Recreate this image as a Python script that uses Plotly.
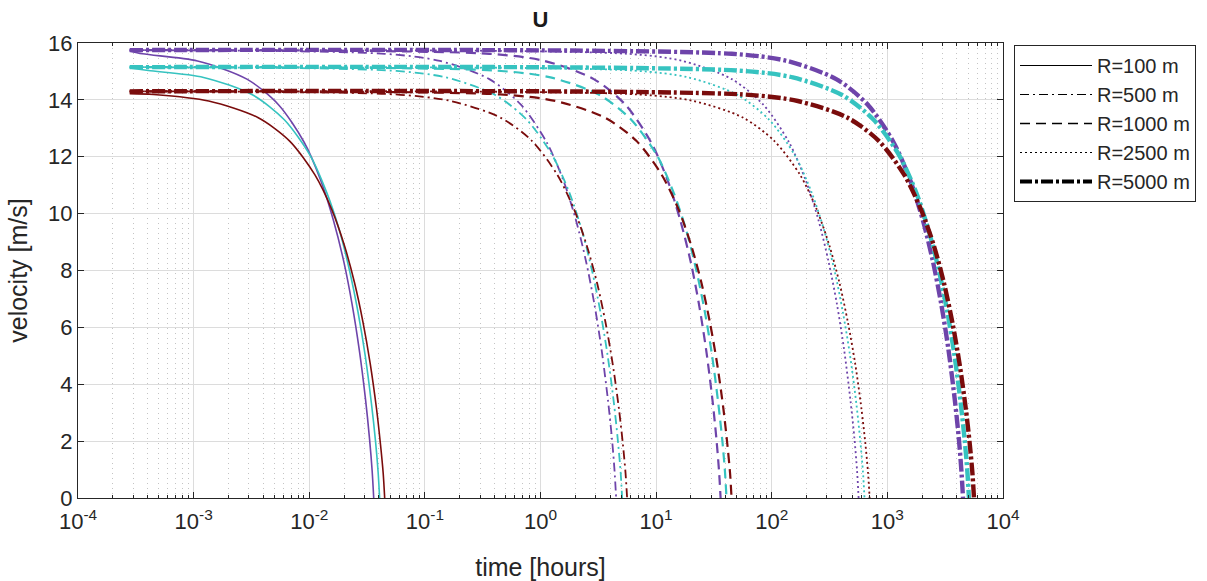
import plotly.graph_objects as go

# ---------------------------------------------------------------------------
# Data: velocity decay U(t) for five radii and three cases (purple, cyan, red)
# ---------------------------------------------------------------------------
T_START = 2.8e-4  # first time sample [hours]

RADII = [100, 500, 1000, 2500, 5000]
CASE_COLORS = ["#6E44AA", "#36C3C0", "#7A0C0C"]

# velocity at the first time sample
V_INIT_R100 = [15.72, 15.12, 14.22]
V_INIT = [15.75, 15.15, 14.30]

# velocity levels along each decay curve [m/s]
V_PURPLE = [15.62, 15.37, 14.73, 13.83, 12.51, 11.16, 9.76, 8.31, 6.80, 5.20, 3.45, 2.09, 0.95, 0.0]
V_CYAN = [15.03, 14.79, 14.17, 13.30, 12.04, 10.73, 9.39, 8.00, 6.54, 5.00, 3.32, 2.01, 0.92, 0.0]
V_RED = [14.19, 13.96, 13.38, 12.56, 11.36, 10.13, 8.86, 7.55, 6.17, 4.72, 3.13, 1.89, 0.87, 0.0]

# times [hours] at which each curve reaches the velocity levels above
T_PURPLE_R100 = [3.61e-4, 1.08e-3, 2.89e-3, 5.42e-3, 9.03e-3, 0.0126, 0.0162, 0.0199, 0.0235, 0.0271, 0.0307, 0.0332, 0.0350, 0.0361]
T_CYAN_R100 = [4.06e-4, 1.22e-3, 3.25e-3, 6.09e-3, 0.0102, 0.0142, 0.0183, 0.0223, 0.0264, 0.0305, 0.0345, 0.0374, 0.0394, 0.0406]
T_RED_R100 = [4.49e-4, 1.35e-3, 3.59e-3, 6.74e-3, 0.0112, 0.0157, 0.0202, 0.0247, 0.0292, 0.0337, 0.0382, 0.0413, 0.0436, 0.0449]

T_PURPLE_R500 = [0.0451, 0.135, 0.361, 0.677, 1.13, 1.58, 2.03, 2.48, 2.93, 3.38, 3.83, 4.15, 4.37, 4.51]
T_CYAN_R500 = [0.0508, 0.152, 0.406, 0.762, 1.27, 1.78, 2.29, 2.79, 3.30, 3.81, 4.32, 4.67, 4.93, 5.08]
T_RED_R500 = [0.0561, 0.168, 0.449, 0.842, 1.40, 1.96, 2.52, 3.09, 3.65, 4.21, 4.77, 5.16, 5.44, 5.61]

T_PURPLE_R1000 = [0.361, 1.08, 2.89, 5.42, 9.03, 12.6, 16.2, 19.9, 23.5, 27.1, 30.7, 33.2, 35.0, 36.1]
T_CYAN_R1000 = [0.406, 1.22, 3.25, 6.09, 10.2, 14.2, 18.3, 22.3, 26.4, 30.5, 34.5, 37.4, 39.4, 40.6]
T_RED_R1000 = [0.449, 1.35, 3.59, 6.74, 11.2, 15.7, 20.2, 24.7, 29.2, 33.7, 38.2, 41.3, 43.6, 44.9]

T_PURPLE_R2500 = [5.64, 16.9, 45.1, 84.6, 141, 197, 254, 310, 367, 423, 479, 519, 547, 564]
T_CYAN_R2500 = [6.34, 19.0, 50.7, 95.1, 159, 222, 285, 349, 412, 476, 539, 583, 615, 634]
T_RED_R2500 = [7.02, 21.1, 56.2, 105, 176, 246, 316, 386, 456, 527, 597, 646, 681, 702]

T_PURPLE_R5000 = [45.1, 135, 361, 677, 1130, 1580, 2030, 2480, 2930, 3380, 3830, 4150, 4370, 4510]
T_CYAN_R5000 = [50.8, 152, 406, 761, 1270, 1780, 2280, 2790, 3300, 3810, 4310, 4670, 4920, 5075]
T_RED_R5000 = [56.1, 168, 449, 842, 1400, 1960, 2530, 3090, 3650, 4210, 4770, 5160, 5440, 5613]

X_TICKS = [1e-4, 1e-3, 1e-2, 1e-1, 1e0, 1e1, 1e2, 1e3, 1e4]
X_TICK_TEXT = ["10<sup>-4</sup>", "10<sup>-3</sup>", "10<sup>-2</sup>", "10<sup>-1</sup>",
               "10<sup>0</sup>", "10<sup>1</sup>", "10<sup>2</sup>", "10<sup>3</sup>", "10<sup>4</sup>"]
Y_TICKS = [0, 2, 4, 6, 8, 10, 12, 14, 16]

# ---------------------------------------------------------------------------
TIMES = {
    100: [T_PURPLE_R100, T_CYAN_R100, T_RED_R100],
    500: [T_PURPLE_R500, T_CYAN_R500, T_RED_R500],
    1000: [T_PURPLE_R1000, T_CYAN_R1000, T_RED_R1000],
    2500: [T_PURPLE_R2500, T_CYAN_R2500, T_RED_R2500],
    5000: [T_PURPLE_R5000, T_CYAN_R5000, T_RED_R5000],
}
VELS = [V_PURPLE, V_CYAN, V_RED]

LINE_STYLE = {
    100: dict(dash="solid", width=1.6),
    500: dict(dash="9px,4px,2px,4px", width=1.8),
    1000: dict(dash="10px,6px", width=2.2),
    2500: dict(dash="2px,3px", width=1.8),
    5000: dict(dash="13px,3px,3px,3px", width=4.4),
}
LEGEND_STYLE = {
    100: dict(dash="solid", width=1.2),
    500: dict(dash="9px,4px,2px,4px", width=1.2),
    1000: dict(dash="10px,6px", width=1.5),
    2500: dict(dash="2px,3px", width=1.2),
    5000: dict(dash="12px,3px,3px,3px", width=4),
}

FONT = "Liberation Sans, Arial, sans-serif"
INK = "#262626"

fig = go.Figure()

for r in RADII:
    for k, color in enumerate(CASE_COLORS):
        v_first = V_INIT_R100[k] if r == 100 else V_INIT[k]
        fig.add_trace(go.Scatter(
            x=[T_START] + TIMES[r][k],
            y=[v_first] + VELS[k],
            mode="lines",
            line=dict(color=color, shape="spline", smoothing=0.8, **LINE_STYLE[r]),
            showlegend=False,
            hoverinfo="skip",
        ))

# black legend entries, one per radius
for r in RADII:
    fig.add_trace(go.Scatter(
        x=[None], y=[None], mode="lines",
        line=dict(color="black", **LEGEND_STYLE[r]),
        name=f"R={r} m", legendgroup=str(r), showlegend=True,
    ))

minor_x = [m * 10.0 ** e for e in range(-4, 4) for m in range(2, 10)]

fig.update_layout(
    width=1207, height=581,
    margin=dict(l=78, r=203, t=43, b=83),
    paper_bgcolor="white", plot_bgcolor="white",
    font=dict(family=FONT, color=INK),
    title=dict(text="<b>U</b>", x=0.5, xref="paper", xanchor="center",
               y=1 - 19 / 581, yref="container", yanchor="middle",
               font=dict(size=22, color="#1a1a1a")),
    legend=dict(x=1.0108, y=0.9956, xanchor="left", yanchor="top",
                bordercolor=INK, borderwidth=1, bgcolor="white",
                font=dict(size=20, color=INK), tracegroupgap=8,
                itemwidth=72, traceorder="normal"),
    xaxis=dict(
        type="log", range=[-4, 4], automargin=False,
        tickmode="array", tickvals=X_TICKS, ticktext=X_TICK_TEXT,
        ticks="inside", ticklen=6, tickcolor=INK, ticklabelstandoff=4,
        showline=True, linecolor=INK, linewidth=1, mirror="allticks",
        showgrid=True, gridcolor="#DCDCDC", gridwidth=1,
        minor=dict(tickmode="array", tickvals=minor_x, ticks="inside", ticklen=3,
                   tickcolor=INK, showgrid=True, gridcolor="#C4C4C4",
                   griddash="1px,4px", gridwidth=1),
        tickfont=dict(family=FONT, size=22, color=INK),
        title=dict(text="time [hours]", font=dict(size=25, color=INK), standoff=26),
        zeroline=False,
    ),
    yaxis=dict(
        range=[0, 16], tickmode="array", tickvals=Y_TICKS, automargin=False,
        ticks="inside", ticklen=6, tickcolor=INK,
        showline=True, linecolor=INK, linewidth=1, mirror="allticks",
        showgrid=True, gridcolor="#DCDCDC", gridwidth=1,
        tickfont=dict(family=FONT, size=22, color=INK),
        title=dict(text="velocity [m/s]", font=dict(size=25, color=INK), standoff=13),
        zeroline=False,
    ),
)

fig.write_html("out.html")
